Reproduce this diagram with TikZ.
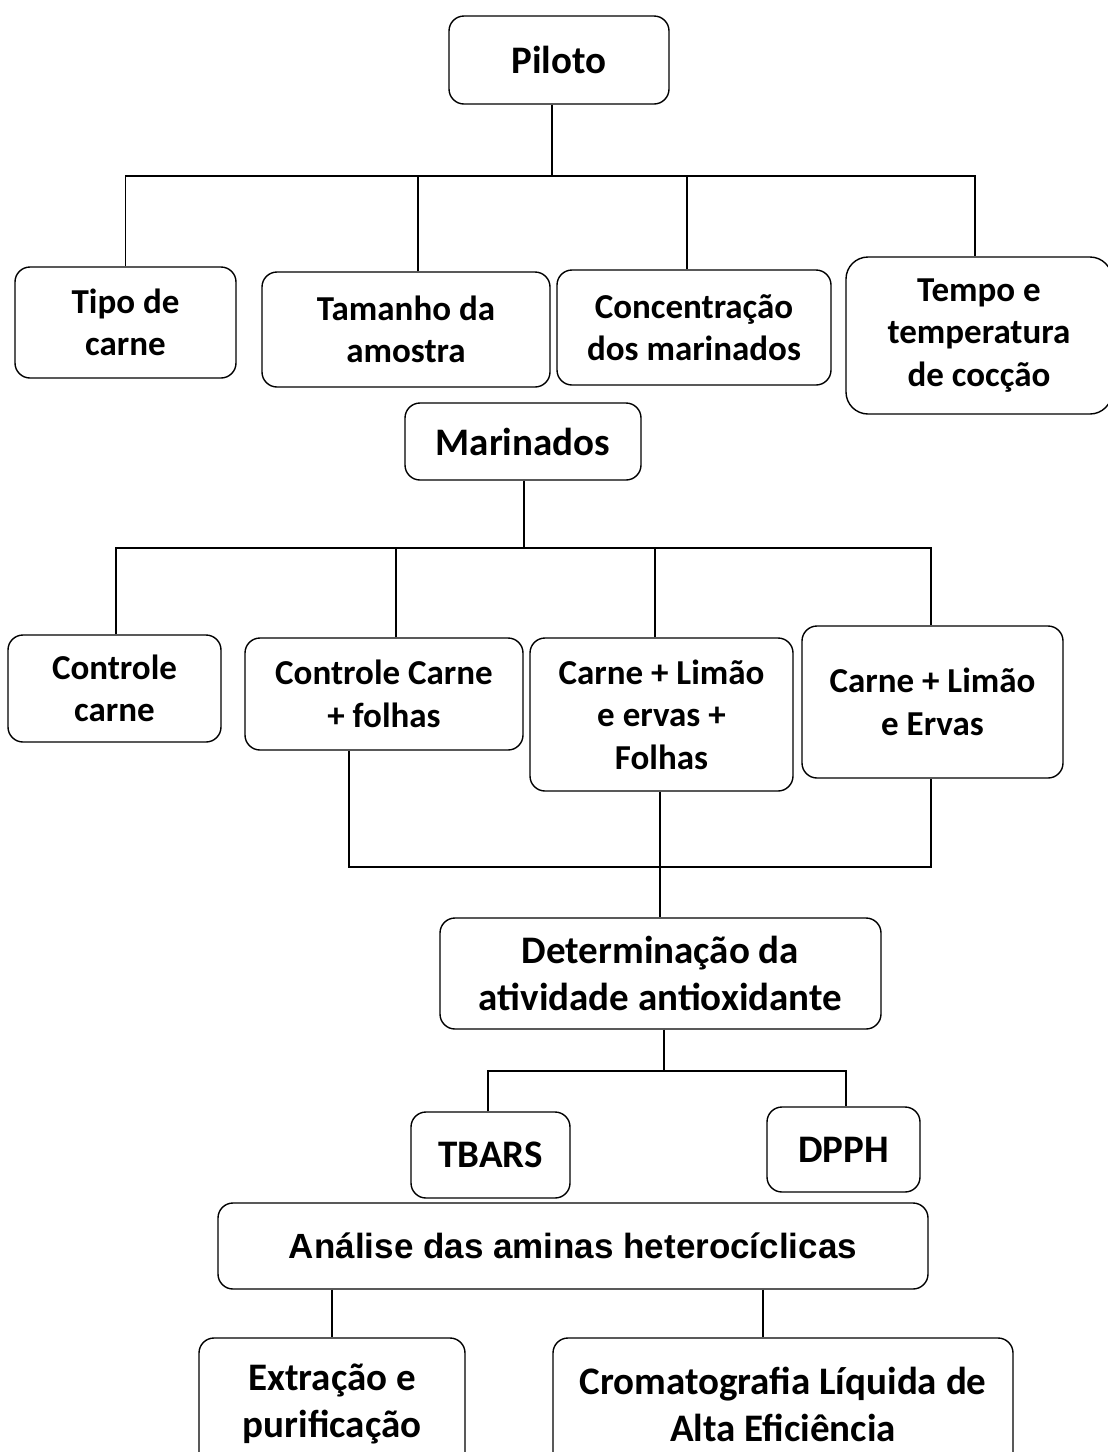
\documentclass[tikz,border=0pt]{standalone}
\usepackage{fontspec}
\setmainfont{Carlito}
\newfontfamily\arialfont{Liberation Sans}
\newcommand\fmedio{\fontsize{35}{42.5}\selectfont\bfseries}
\newcommand\fgrande{\fontsize{39}{47}\selectfont\bfseries}

\begin{document}
\begin{tikzpicture}[x=1pt, y=-1pt,
            caixa/.style={draw, rectangle, rounded corners=15pt, line width=1.4pt, align=center, inner sep=0pt, font=\fmedio},
            liga/.style={line width=1.2pt}]
            \useasboundingbox (0,0) rectangle (1108,1452);

            % nivel piloto
            \node[caixa, font=\fgrande, minimum width=220pt, minimum height=88pt] (piloto) at (559,60) {Piloto};
            \node[caixa, minimum width=221pt, minimum height=111pt] (tipo) at (125.5,322.5) {Tipo de\\carne};
            \node[caixa, minimum width=288pt, minimum height=115pt] (tamanho) at (406,329.5) {Tamanho da\\amostra};
            \node[caixa, minimum width=274pt, minimum height=115pt] (concentr) at (694,327.5) {Concentração\\dos marinados};
            \node[caixa, rounded corners=22pt, minimum width=266pt, minimum height=157pt] (tempo) at (979,335.5) {Tempo e\\temperatura\\de cocção};

            % nivel marinados
            \node[caixa, font=\fgrande, minimum width=236pt, minimum height=77pt] (marinados) at (523,441.5) {Marinados};
            \node[caixa, minimum width=213pt, minimum height=107pt] (contcarne) at (114.5,688.5) {Controle\\carne};
            \node[caixa, minimum width=278pt, minimum height=112pt] (contfolhas) at (384,694) {Controle Carne\\+ folhas};
            \node[caixa, minimum width=263pt, minimum height=153pt] (limfolhas) at (661.5,714.5) {Carne + Limão\\e ervas +\\Folhas};
            \node[caixa, minimum width=261pt, minimum height=152pt] (limervas) at (932.5,702) {Carne + Limão\\e Ervas};

            % analises
            \node[caixa, font=\fgrande, minimum width=441pt, minimum height=111pt] (determ) at (660.5,973.5) {Determinação da\\atividade antioxidante};
            \node[caixa, font=\fgrande, minimum width=159pt, minimum height=86pt] (tbars) at (490.5,1155) {TBARS};
            \node[caixa, font=\fgrande, minimum width=153pt, minimum height=85pt] (dpph) at (843.5,1149.5) {DPPH};
            \node[caixa, font=\arialfont\fmedio, minimum width=710pt, minimum height=86pt] (analise) at (573,1246) {Análise das aminas heterocíclicas};
            \node[caixa, font=\fgrande, minimum width=266pt, minimum height=132pt] (extracao) at (332,1404) {Extração e\\purificação};
            \node[caixa, font=\fgrande, minimum width=460pt, minimum height=132pt] (cromato) at (783,1404) {Cromatografia Líquida de\\Alta Eficiência};

            % ligacoes
            \coordinate (j1) at (552,176);
            \coordinate (j2) at (524,548);
            \coordinate (j3) at (660,867);
            \coordinate (j4) at (664,1071);

            \draw[liga] (piloto.south -| j1) -- (j1);
            \draw[liga] (tipo.north) |- (j1) -| ([xshift=-4pt]tempo.north);
            \draw[liga] ([xshift=12pt]tamanho.north) -- ([xshift=12pt]tamanho.north |- j1);
            \draw[liga] ([xshift=-7pt]concentr.north) -- ([xshift=-7pt]concentr.north |- j1);

            \draw[liga] (marinados.south -| j2) -- (j2);
            \draw[liga] ([xshift=1.5pt]contcarne.north) |- (j2) -| ([xshift=-1.5pt]limervas.north);
            \draw[liga] ([xshift=12pt]contfolhas.north) -- ([xshift=12pt]contfolhas.north |- j2);
            \draw[liga] ([xshift=-6.5pt]limfolhas.north) -- ([xshift=-6.5pt]limfolhas.north |- j2);

            \draw[liga] ([xshift=-35pt]contfolhas.south) |- (j3) -| ([xshift=-1.5pt]limervas.south);
            \draw[liga] (limfolhas.south -| j3) -- (determ.north -| j3);

            \draw[liga] (determ.south -| j4) -- (j4);
            \draw[liga] ([xshift=-2.5pt]tbars.north) |- (j4) -| ([xshift=2.5pt]dpph.north);

            \draw[liga] (analise.south -| extracao.north) -- (extracao.north);
            \draw[liga] ([xshift=-20pt]cromato.north |- analise.south) -- ([xshift=-20pt]cromato.north);
        \end{tikzpicture}
\end{document}
